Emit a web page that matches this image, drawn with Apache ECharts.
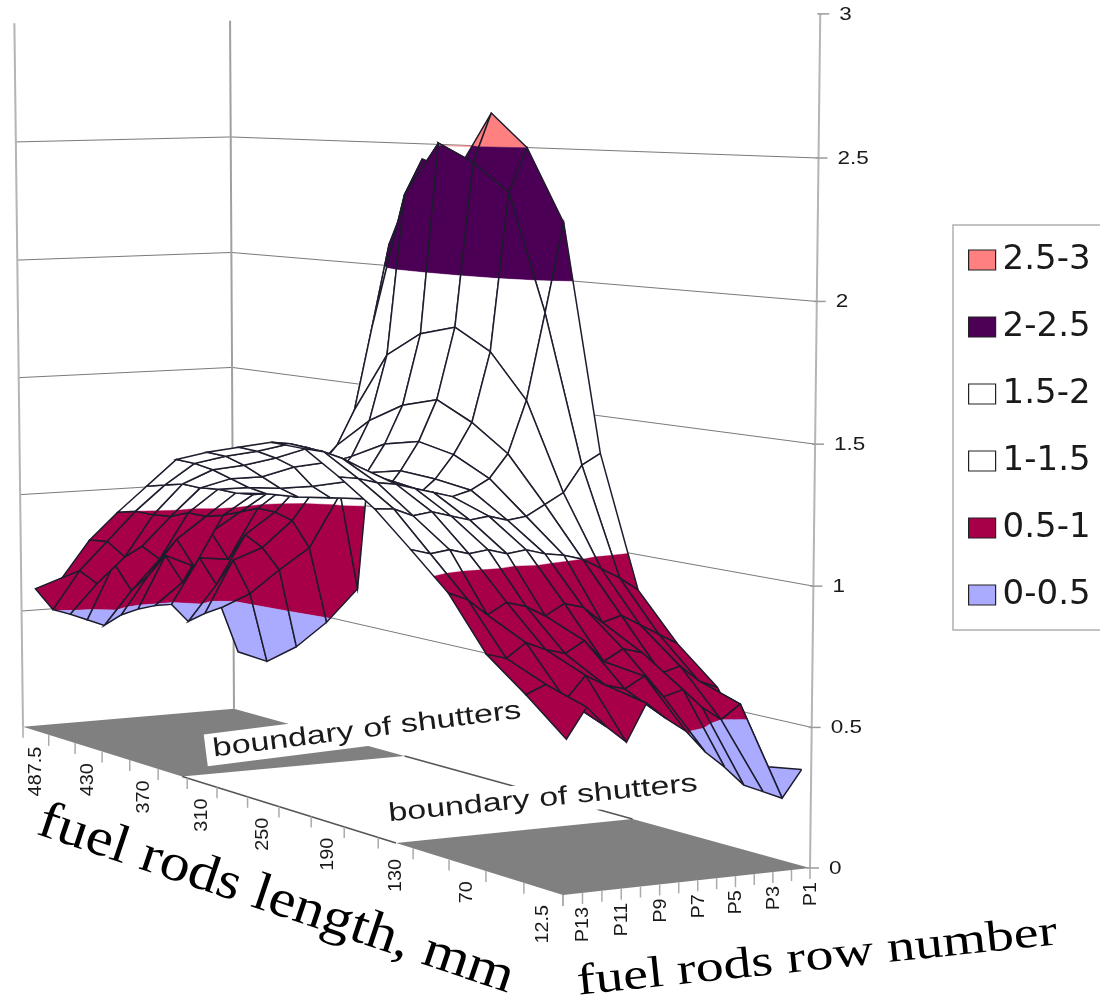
<!DOCTYPE html>
<html><head><meta charset="utf-8"><style>html,body{margin:0;padding:0;background:#fff}#c{width:1100px;height:999px}</style>
<script src="https://cdn.jsdelivr.net/npm/echarts@6/dist/echarts.min.js"></script></head><body><div id="c"></div>
<script>
// ---- data -----
const rowNames = ['P1','P2','P3','P4','P5','P6','P7','P8','P9','P10','P11','P12','P13'];
const lengths = [12.5,40,70,100,130,160,190,220,250,280,310,340,370,400,430,460,487.5];
const lengthLabels = ['487.5','430','370','310','250','190','130','70','12.5'];
const rowLabels = ['P1','P3','P5','P7','P9','P11','P13'];
const zTicks = [0,0.5,1,1.5,2,2.5,3];
const L012 = [.345,.25,.28,.31,.38,.44,.52,.57,.63,.50,.56,.635,.53];
const L040 = [.32,.55,.50,.55,.62,.60,.68,.64,.66,.70,.62,.68,.65];
const L070 = [.57,.60,.66,.64,.72,.74,.70,.78,.74,.76,.79,.74,.76];
const L100 = [.70,.74,.78,.82,.80,.86,.88,.84,.88,.90,.86,.92,.95];
const L130 = [.87,.92,.96,1.00,1.02,1.03,1.05,1.04,1.06,1.05,1.07,1.06,1.08];
const L160 = [1.36,1.32,1.22,1.18,1.14,1.13,1.15,1.14,1.16,1.18,1.17,1.20,1.205];
const L190 = [2.22,1.88,1.55,1.35,1.26,1.22,1.20,1.22,1.24,1.26,1.27,1.29,1.30];
const L220 = [2.50,2.33,1.72,1.45,1.33,1.24,1.18,1.20,1.26,1.30,1.34,1.37,1.385];
const L250 = [2.63,2.44,1.80,1.52,1.36,1.25,1.16,1.15,1.22,1.30,1.36,1.38,1.39];
const L280 = [2.39,2.51,1.76,1.48,1.33,1.22,1.15,1.13,1.18,1.26,1.30,1.33,1.35];
const L310 = [2.44,2.30,1.66,1.40,1.26,1.18,1.12,1.11,1.15,1.20,1.25,1.29,1.31];
const L340 = [2.09,1.75,1.42,1.28,1.20,1.14,1.10,1.10,1.13,1.17,1.21,1.24,1.26];
const L370 = [.65,1.05,1.12,1.12,1.10,1.08,1.07,1.08,1.10,1.11,1.13,1.13,1.13];
const L400 = [.48,.80,.92,.96,.98,.97,.96,.96,.98,.97,.98,1.0,1.0];
const L430 = [.345,.68,.78,.84,.74,.86,.72,.84,.76,.82,.78,.85,.86];
const L460 = [.25,.55,.70,.60,.72,.62,.74,.66,.60,.72,.64,.70,.675];
const L487 = [.26,.46,.44,.41,.49,.49,.48,.46,.42,.45,.48,.505,.60];
const surface = [L012,L040,L070,L100,L130,L160,L190,L220,L250,L280,L310,L340,L370,L400,L430,L460,L487];
const bandNames = ['2.5-3','2-2.5','1.5-2','1-1.5','0.5-1','0-0.5'];
const bandLow = [2.5,2,1.5,1,0.5,0];
const bandColors = ['#FF8080','#4B0055','#FFFFFF','#FFFFFF','#A80048','#AAAAFF'];
const shutterBack = 0.657, shutterFront = 0.264;

// ---- perspective of the chart box -----
const g=-0.0277,h=0.2415,K=284.7;
function proj(u,v,z){
  const w=1+g*u+h*v;
  const bx=(810-262.6*u-519.5*v)/w, by=(868+2.24*u+12*v)/w, S=K/w;
  const ze=z*(0.985+0.005*z);
  return [bx+ze*S*(bx-420)/32500, by-ze*S];
}
const U=c=>0.01+0.0794*c, V=r=>0.01+0.061*r;

function clipBand(poly,lo,hi){
  function clip(p,keep,lim){
    const out=[];
    for(let i=0;i<p.length;i++){
      const a=p[i],b=p[(i+1)%p.length],ka=keep(a[2]),kb=keep(b[2]);
      if(ka) out.push(a);
      if(ka!==kb){const t=(lim-a[2])/(b[2]-a[2]);out.push([a[0]+t*(b[0]-a[0]),a[1]+t*(b[1]-a[1]),lim]);}
    }
    return out;
  }
  let p=clip(poly,z=>z>=lo,lo); if(p.length<3) return null;
  p=clip(p,z=>z<=hi,hi); return p.length<3?null:p;
}

function renderCell(params,api){
  const r=api.value(0),c=api.value(1);
  const at=(rr,cc)=>[U(cc),V(rr),surface[rr][cc]];
  const q=[at(r,c),at(r,c+1),at(r+1,c+1),at(r+1,c)];
  const toPx=p=>{const a=proj(p[0],p[1],p[2]);return api.coord(a);};
  const children=[];
  bandLow.forEach((lo,i)=>{
    const p=clipBand(q,lo,lo+0.5); if(!p) return;
    children.push({type:'polygon',shape:{points:p.map(toPx)},style:{fill:bandColors[i],stroke:bandColors[i],lineWidth:0.4}});
  });
  const pts=q.map(toPx); pts.push(pts[0]);
  children.push({type:'polyline',shape:{points:pts},style:{fill:null,stroke:'#1c1c2c',lineWidth:1.5}});
  return {type:'group',children};
}

function renderFrame(params,api){
  const P=(u,v,z)=>api.coord(proj(u,v,z));
  const ch=[];
  const line=(a,b,col,w)=>ch.push({type:'line',shape:{x1:a[0],y1:a[1],x2:b[0],y2:b[1]},style:{stroke:col,lineWidth:w}});
  const txt=(t,x,y,font,o)=>ch.push(Object.assign({type:'text',x,y,style:{text:t,font,fill:o.fill||'#1a1a1a',align:o.align||'left',verticalAlign:o.va||'middle'}},o.tr||{}));
  const face=(v0,v1)=>ch.push({type:'polygon',shape:{points:[P(0,v0,0),P(1,v0,0),P(1,v1,0),P(0,v1,0)]},style:{fill:'#808080'}});
  // walls
  zTicks.forEach(z=>{ if(z>0&&z<3){line(P(1,1,z),P(0,1,z),'#7a7a7a',1);line(P(0,1,z),P(0,0,z),'#7a7a7a',1);}});
  line(P(1,1,0),P(1,1,3),'#b5b5b5',2);line(P(0,1,0),P(0,1,3),'#a0a0a0',2);line(P(0,0,0),P(0,0,3),'#b5b5b5',2);
  // floor
  face(shutterBack,1);face(0,shutterFront);
  line(P(1,shutterFront,0),P(1,shutterBack,0),'#555',1.6);line(P(0,shutterFront,0),P(0,shutterBack,0),'#555',1.6);
  // z axis
  zTicks.forEach(z=>{const a=P(0,0,z);line([a[0]-3,a[1]],[a[0]+9,a[1]],'#9a9a9a',1.5);
    txt(String(z),a[0]+19,a[1]+1,'18px "Liberation Sans"',{tr:{scaleX:1.25}});});
  // ticks on the floor edges
  for(let k=0;k<=17;k++){const a=P(1,k/17,0);line(a,[a[0],a[1]+11],'#aaa',1.5);}
  for(let k=0;k<=13;k++){const a=P(k/13,0,0);line(a,[a[0],a[1]+11],'#aaa',1.5);}
  lengthLabels.forEach((t,i)=>{const a=P(1,1-(2*i+.5)/17,0);
    txt(t,a[0],a[1]+16,'18px "Liberation Sans"',{align:'right',tr:{rotation:Math.PI/2,scaleX:1.1}});});
  rowLabels.forEach((t,i)=>{const a=P(2*i/13,0,0);
    txt(t,a[0]+1,a[1]+14,'18px "Liberation Sans"',{align:'right',tr:{rotation:Math.PI/2,scaleX:1.1}});});
  // shutter captions
  const cap=(x,y,rot,w)=>{const c=api.coord([x,y]);
    ch.push({type:'rect',x:c[0],y:c[1],rotation:rot,shape:{x:-w/2,y:-16,width:w,height:32},style:{fill:'#fff'}});
    ch.push({type:'text',x:c[0],y:c[1],rotation:rot,scaleX:1.31,style:{text:'boundary of shutters',font:'26px "Liberation Sans"',fill:'#1a1a1a',align:'center',verticalAlign:'middle'}});};
  cap(367,730,0.125,325);cap(543,799,0.098,315);
  // axis titles
  const t1=api.coord([276,900]);
  ch.push({type:'text',x:t1[0],y:t1[1],rotation:-0.325,scaleX:1.13,style:{text:'fuel rods length, mm',font:'53px "Liberation Serif"',fill:'#000',align:'center',verticalAlign:'middle'}});
  const t2=api.coord([817,958]);
  ch.push({type:'text',x:t2[0],y:t2[1],rotation:0.105,scaleX:1.27,style:{text:'fuel rods row number',font:'44px "Liberation Serif"',fill:'#000',align:'center',verticalAlign:'middle'}});
  return {type:'group',children:ch};
}

const cells=[];
for(let r=surface.length-2;r>=0;r--) for(let c=0;c<rowNames.length-1;c++) cells.push([r,c]);

const chart=echarts.init(document.getElementById('c'),null,{renderer:'canvas'});
chart.setOption({
  animation:false,backgroundColor:'#fff',
  grid:{left:0,right:0,top:0,bottom:0},
  xAxis:{type:'value',min:0,max:1100,show:false},
  yAxis:{type:'value',min:0,max:999,inverse:true,show:false},
  legend:{left:953,top:225,orient:'vertical',selectedMode:false,icon:'rect',itemWidth:27,itemHeight:20,itemGap:33,
    padding:[18,60,18,15],borderColor:'#b0b0b0',borderWidth:1.5,backgroundColor:'#fff',
    textStyle:{fontFamily:'DejaVu Sans',fontSize:34,color:'#1a1a1a',lineHeight:20,padding:[0,0,0,2]},
    data:bandNames.map((n,i)=>({name:n,itemStyle:{color:bandColors[i],borderColor:'#222',borderWidth:1.2}}))},
  series:[
    {type:'custom',name:'frame',coordinateSystem:'cartesian2d',silent:true,renderItem:renderFrame,data:[[0,0]],clip:false,z:1},
    {type:'custom',name:'surface',coordinateSystem:'cartesian2d',silent:true,renderItem:renderCell,data:cells,dimensions:['r','c'],encode:{x:0,y:1},clip:false,z:2,progressive:0},
    ...bandNames.map((n,i)=>({type:'custom',name:n,coordinateSystem:'cartesian2d',renderItem:()=>null,data:[],itemStyle:{color:bandColors[i]}}))
  ]
});
</script></body></html>
